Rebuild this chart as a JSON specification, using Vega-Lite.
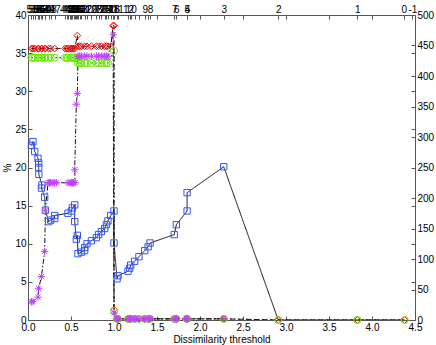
{
  "$schema": "https://vega.github.io/schema/vega-lite/v6.json",
  "width": 387,
  "height": 305,
  "autosize": {"type": "none"},
  "padding": {"left": 28, "top": 15, "right": 21, "bottom": 25},
  "config": {
    "view": {"stroke": "#555", "strokeWidth": 1},
    "font": "Liberation Sans",
    "axis": {"domain": false, "grid": false, "tickColor": "#555", "tickSize": -4, "tickWidth": 1,
      "labelFont": "Liberation Sans", "labelFontSize": 10, "labelColor": "#000", "labelPadding": 6,
      "titleFont": "Liberation Sans", "titleFontSize": 10, "titleFontWeight": "normal", "titleColor": "#000",
      "labelOverlap": false, "labelFlush": false, "labelBound": false}
  },
  "datasets": {
    "d": [
      {"s":"B","i":1,"x":0.04,"y":22.9},{"s":"B","i":2,"x":0.058,"y":23.4},{"s":"B","i":3,"x":0.078,"y":22.1},{"s":"B","i":4,"x":0.116,"y":21.2},{"s":"B","i":5,"x":0.124,"y":20.6},{"s":"B","i":6,"x":0.124,"y":20.0},{"s":"B","i":7,"x":0.126,"y":19.1},{"s":"B","i":8,"x":0.163,"y":17.7},{"s":"B","i":9,"x":0.156,"y":17.3},{"s":"B","i":10,"x":0.194,"y":16.1},{"s":"B","i":11,"x":0.202,"y":14.4},{"s":"B","i":12,"x":0.24,"y":12.9},{"s":"B","i":13,"x":0.264,"y":13.1},{"s":"B","i":14,"x":0.31,"y":13.3},{"s":"B","i":15,"x":0.31,"y":13.7},{"s":"B","i":16,"x":0.465,"y":14.0},{"s":"B","i":17,"x":0.504,"y":14.3},{"s":"B","i":18,"x":0.516,"y":14.7},{"s":"B","i":19,"x":0.543,"y":15.1},{"s":"B","i":20,"x":0.543,"y":12.9},{"s":"B","i":21,"x":0.562,"y":10.6},{"s":"B","i":22,"x":0.574,"y":11.1},{"s":"B","i":23,"x":0.581,"y":8.7},{"s":"B","i":24,"x":0.62,"y":8.9},{"s":"B","i":25,"x":0.659,"y":9.1},{"s":"B","i":26,"x":0.659,"y":9.5},{"s":"B","i":27,"x":0.686,"y":10.0},{"s":"B","i":28,"x":0.737,"y":10.4},{"s":"B","i":29,"x":0.795,"y":10.8},{"s":"B","i":30,"x":0.822,"y":11.2},{"s":"B","i":31,"x":0.853,"y":11.6},{"s":"B","i":32,"x":0.892,"y":12.0},{"s":"B","i":33,"x":0.912,"y":12.5},{"s":"B","i":34,"x":0.93,"y":13.0},{"s":"B","i":35,"x":0.962,"y":13.7},{"s":"B","i":36,"x":1.0,"y":14.3},{"s":"B","i":37,"x":1.0,"y":10.1},{"s":"B","i":38,"x":1.035,"y":5.4},{"s":"B","i":39,"x":1.047,"y":5.8},{"s":"B","i":40,"x":1.163,"y":6.4},{"s":"B","i":41,"x":1.183,"y":6.8},{"s":"B","i":42,"x":1.194,"y":7.2},{"s":"B","i":43,"x":1.24,"y":7.7},{"s":"B","i":44,"x":1.29,"y":8.3},{"s":"B","i":45,"x":1.357,"y":9.1},{"s":"B","i":46,"x":1.397,"y":9.6},{"s":"B","i":47,"x":1.42,"y":10.1},{"s":"B","i":48,"x":1.7,"y":11.2},{"s":"B","i":49,"x":1.725,"y":12.5},{"s":"B","i":50,"x":1.85,"y":14.3},{"s":"B","i":51,"x":1.85,"y":16.7},{"s":"B","i":52,"x":2.276,"y":20.1},{"s":"B","i":53,"x":2.91,"y":0},{"s":"B","i":54,"x":3.83,"y":0},{"s":"B","i":55,"x":4.38,"y":0},

      {"s":"R","i":101,"x":0.04,"y":35.6},{"s":"R","i":102,"x":0.058,"y":35.6},{"s":"R","i":103,"x":0.078,"y":35.6},{"s":"R","i":104,"x":0.116,"y":35.6},{"s":"R","i":105,"x":0.124,"y":35.6},{"s":"R","i":106,"x":0.156,"y":35.6},{"s":"R","i":107,"x":0.163,"y":35.6},{"s":"R","i":108,"x":0.194,"y":35.6},{"s":"R","i":109,"x":0.202,"y":35.6},{"s":"R","i":110,"x":0.24,"y":35.6},{"s":"R","i":111,"x":0.264,"y":35.6},{"s":"R","i":112,"x":0.31,"y":35.6},
      {"s":"R","i":113,"x":0.43,"y":35.6},{"s":"R","i":114,"x":0.45,"y":35.6},{"s":"R","i":115,"x":0.465,"y":35.6},{"s":"R","i":116,"x":0.49,"y":35.6},{"s":"R","i":117,"x":0.504,"y":35.6},{"s":"R","i":118,"x":0.516,"y":35.6},{"s":"R","i":119,"x":0.53,"y":35.6},{"s":"R","i":120,"x":0.543,"y":35.6},{"s":"R","i":121,"x":0.574,"y":37.3},
      {"s":"R","i":122,"x":0.581,"y":35.9},{"s":"R","i":123,"x":0.6,"y":35.9},{"s":"R","i":124,"x":0.62,"y":35.9},{"s":"R","i":125,"x":0.659,"y":35.9},{"s":"R","i":126,"x":0.686,"y":35.9},{"s":"R","i":127,"x":0.737,"y":35.9},{"s":"R","i":128,"x":0.795,"y":35.9},{"s":"R","i":129,"x":0.822,"y":35.9},{"s":"R","i":130,"x":0.853,"y":35.9},{"s":"R","i":131,"x":0.892,"y":35.9},{"s":"R","i":132,"x":0.912,"y":35.9},{"s":"R","i":133,"x":0.93,"y":35.9},{"s":"R","i":134,"x":0.962,"y":35.9},
      {"s":"R","i":135,"x":0.99,"y":38.6},{"s":"R","i":136,"x":1.0,"y":38.6},{"s":"R","i":137,"x":1.0,"y":1.4},
      {"s":"R","i":138,"x":1.035,"y":0.15},{"s":"R","i":139,"x":1.047,"y":0.15},{"s":"R","i":140,"x":1.163,"y":0.15},{"s":"R","i":141,"x":1.183,"y":0.15},{"s":"R","i":142,"x":1.194,"y":0.15},{"s":"R","i":143,"x":1.24,"y":0.15},{"s":"R","i":144,"x":1.29,"y":0.15},{"s":"R","i":145,"x":1.357,"y":0.15},{"s":"R","i":146,"x":1.397,"y":0.15},{"s":"R","i":147,"x":1.42,"y":0.15},{"s":"R","i":148,"x":1.7,"y":0.15},{"s":"R","i":149,"x":1.725,"y":0.15},{"s":"R","i":150,"x":1.845,"y":0.15},{"s":"R","i":151,"x":1.85,"y":0.15},{"s":"R","i":152,"x":2.276,"y":0.15},{"s":"R","i":153,"x":2.91,"y":0},{"s":"R","i":154,"x":3.83,"y":0},{"s":"R","i":155,"x":4.38,"y":0},

      {"s":"G","i":201,"x":0.04,"y":34.4},{"s":"G","i":202,"x":0.058,"y":34.4},{"s":"G","i":203,"x":0.078,"y":34.4},{"s":"G","i":204,"x":0.116,"y":34.4},{"s":"G","i":205,"x":0.124,"y":34.4},{"s":"G","i":206,"x":0.156,"y":34.4},{"s":"G","i":207,"x":0.163,"y":34.4},{"s":"G","i":208,"x":0.194,"y":34.4},{"s":"G","i":209,"x":0.202,"y":34.4},{"s":"G","i":210,"x":0.24,"y":34.4},{"s":"G","i":211,"x":0.264,"y":34.4},{"s":"G","i":212,"x":0.31,"y":34.4},
      {"s":"G","i":213,"x":0.43,"y":34.4},{"s":"G","i":214,"x":0.45,"y":34.4},{"s":"G","i":215,"x":0.465,"y":34.4},{"s":"G","i":216,"x":0.49,"y":34.4},{"s":"G","i":217,"x":0.504,"y":34.4},{"s":"G","i":218,"x":0.516,"y":34.4},{"s":"G","i":219,"x":0.53,"y":34.4},{"s":"G","i":220,"x":0.543,"y":34.4},{"s":"G","i":221,"x":0.574,"y":34.3},
      {"s":"G","i":222,"x":0.581,"y":33.7},{"s":"G","i":223,"x":0.6,"y":33.7},{"s":"G","i":224,"x":0.62,"y":33.7},{"s":"G","i":225,"x":0.659,"y":33.7},{"s":"G","i":226,"x":0.686,"y":33.7},{"s":"G","i":227,"x":0.737,"y":33.7},{"s":"G","i":228,"x":0.795,"y":33.7},{"s":"G","i":229,"x":0.822,"y":33.7},{"s":"G","i":230,"x":0.853,"y":33.7},{"s":"G","i":231,"x":0.892,"y":33.7},{"s":"G","i":232,"x":0.912,"y":33.7},{"s":"G","i":233,"x":0.93,"y":33.7},
      {"s":"G","i":234,"x":1.0,"y":35.3},{"s":"G","i":235,"x":1.0,"y":1.2},
      {"s":"G","i":238,"x":1.035,"y":0.15},{"s":"G","i":239,"x":1.047,"y":0.15},{"s":"G","i":240,"x":1.163,"y":0.15},{"s":"G","i":241,"x":1.183,"y":0.15},{"s":"G","i":242,"x":1.194,"y":0.15},{"s":"G","i":243,"x":1.24,"y":0.15},{"s":"G","i":244,"x":1.29,"y":0.15},{"s":"G","i":245,"x":1.357,"y":0.15},{"s":"G","i":246,"x":1.397,"y":0.15},{"s":"G","i":247,"x":1.42,"y":0.15},{"s":"G","i":248,"x":1.7,"y":0.15},{"s":"G","i":249,"x":1.725,"y":0.15},{"s":"G","i":250,"x":1.845,"y":0.15},{"s":"G","i":251,"x":1.85,"y":0.15},{"s":"G","i":252,"x":2.276,"y":0.15},{"s":"G","i":253,"x":2.91,"y":0},{"s":"G","i":254,"x":3.83,"y":0},{"s":"G","i":255,"x":4.38,"y":0},

      {"s":"P","i":301,"x":0.04,"y":2.4},{"s":"P","i":302,"x":0.058,"y":2.4},{"s":"P","i":303,"x":0.116,"y":3.0},{"s":"P","i":304,"x":0.124,"y":4.1},{"s":"P","i":305,"x":0.156,"y":5.7},{"s":"P","i":306,"x":0.194,"y":9.0},{"s":"P","i":307,"x":0.202,"y":14.4},{"s":"P","i":308,"x":0.233,"y":18.0},{"s":"P","i":309,"x":0.25,"y":18.0},{"s":"P","i":310,"x":0.264,"y":18.0},{"s":"P","i":311,"x":0.29,"y":18.0},{"s":"P","i":312,"x":0.31,"y":18.0},{"s":"P","i":313,"x":0.33,"y":18.0},
      {"s":"P","i":314,"x":0.465,"y":18.0},{"s":"P","i":315,"x":0.49,"y":18.0},{"s":"P","i":316,"x":0.504,"y":18.0},{"s":"P","i":317,"x":0.516,"y":18.0},{"s":"P","i":318,"x":0.53,"y":18.0},{"s":"P","i":319,"x":0.548,"y":18.0},{"s":"P","i":320,"x":0.543,"y":19.7},{"s":"P","i":321,"x":0.562,"y":28.3},{"s":"P","i":322,"x":0.574,"y":29.7},
      {"s":"P","i":323,"x":0.581,"y":34.6},{"s":"P","i":324,"x":0.6,"y":34.6},{"s":"P","i":325,"x":0.62,"y":34.6},{"s":"P","i":326,"x":0.659,"y":34.6},{"s":"P","i":327,"x":0.686,"y":34.6},{"s":"P","i":328,"x":0.737,"y":34.6},{"s":"P","i":329,"x":0.795,"y":34.6},{"s":"P","i":330,"x":0.822,"y":34.6},{"s":"P","i":331,"x":0.853,"y":34.6},{"s":"P","i":332,"x":0.892,"y":34.6},{"s":"P","i":333,"x":0.912,"y":34.6},{"s":"P","i":334,"x":0.93,"y":34.6},
      {"s":"P","i":335,"x":0.99,"y":37.4},{"s":"P","i":336,"x":1.0,"y":0.9},
      {"s":"P","i":338,"x":1.035,"y":0.15},{"s":"P","i":339,"x":1.047,"y":0.15},{"s":"P","i":340,"x":1.163,"y":0.15},{"s":"P","i":341,"x":1.183,"y":0.15},{"s":"P","i":342,"x":1.194,"y":0.15},{"s":"P","i":343,"x":1.24,"y":0.15},{"s":"P","i":344,"x":1.29,"y":0.15},{"s":"P","i":345,"x":1.357,"y":0.15},{"s":"P","i":346,"x":1.397,"y":0.15},{"s":"P","i":347,"x":1.42,"y":0.15},{"s":"P","i":348,"x":1.7,"y":0.15},{"s":"P","i":349,"x":1.725,"y":0.15},{"s":"P","i":350,"x":1.845,"y":0.15},{"s":"P","i":351,"x":1.85,"y":0.15},{"s":"P","i":352,"x":2.276,"y":0.15}
    ]
  },
  "data": {"name": "d"},
  "layer": [
    {
      "mark": {"type": "line", "strokeWidth": 1, "color": "#111", "clip": true},
      "encoding": {
        "x": {"field": "x", "type": "quantitative", "scale": {"domain": [0, 4.5], "nice": false, "zero": false},
          "axis": {"orient": "bottom", "values": [0, 0.5, 1, 1.5, 2, 2.5, 3, 3.5, 4, 4.5], "title": "Dissimilarity threshold", "titlePadding": 2}},
        "y": {"field": "y", "type": "quantitative", "scale": {"domain": [0, 40], "nice": false},
          "axis": {"orient": "left", "values": [0, 5, 10, 15, 20, 25, 30, 35, 40], "title": "%", "titlePadding": 2}},
        "detail": {"field": "s", "type": "nominal"},
        "strokeDash": {"field": "s", "type": "nominal", "legend": null,
          "scale": {"domain": ["B", "R", "G", "P"], "range": [[1, 0], [5, 3], [1.5, 2.5], [5, 2, 1.5, 2]]}},
        "order": {"field": "i", "type": "quantitative"}
      }
    },
    {
      "transform": [{"filter": "datum.s != 'B' || datum.x < 2.5"}],
      "mark": {"type": "point", "filled": false, "strokeWidth": 1, "opacity": 1, "clip": false},
      "encoding": {
        "x": {"field": "x", "type": "quantitative", "scale": {"domain": [0, 4.5], "nice": false, "zero": false},
          "axis": {"orient": "top", "title": null, "labelPadding": 5,
            "values": [0.04,0.058,0.078,0.116,0.124,0.126,0.156,0.163,0.194,0.202,0.24,0.264,0.31,0.43,0.45,0.465,0.49,0.504,0.516,0.53,0.543,0.562,0.574,0.581,0.6,0.62,0.659,0.686,0.737,0.795,0.822,0.853,0.892,0.912,0.93,0.962,0.99,1,1.035,1.047,1.163,1.183,1.194,1.24,1.29,1.357,1.397,1.42,1.7,1.725,1.845,1.85,2.276,2.91,3.83,4.37,4.47,0.5,1.5,2,2.5,3,3.5,4],
            "labelExpr": "{'0.04':'59','0.058':'58','0.078':'57','0.116':'56','0.124':'55','0.126':'54','0.156':'53','0.163':'52','0.194':'51','0.202':'50','0.24':'49','0.264':'48','0.31':'47','0.43':'44','0.45':'43','0.465':'42','0.49':'41','0.504':'40','0.516':'39','0.53':'38','0.543':'37','0.562':'36','0.574':'35','0.581':'34','0.6':'33','0.62':'32','0.659':'31','0.686':'30','0.737':'29','0.795':'28','0.822':'27','0.853':'26','0.892':'25','0.912':'24','0.93':'22','0.962':'20','0.99':'18','1':'16','1.047':'11','1.163':'12','1.194':'10','1.357':'9','1.42':'8','1.7':'7','1.725':'6','1.845':'5','1.85':'4','2.276':'3','2.91':'2','3.83':'1','4.37':'0','4.47':'-1'}[toString(datum.value)] || ''"}},
        "y": {"field": "y", "type": "quantitative", "scale": {"domain": [0, 40], "nice": false}, "axis": null},
        "shape": {"field": "s", "type": "nominal", "legend": null,
          "scale": {"domain": ["B", "R", "G", "P"], "range": ["square", "diamond", "circle", "M-1,0L1,0M0,-1L0,1M-0.7,-0.7L0.7,0.7M-0.7,0.7L0.7,-0.7"]}},
        "size": {"field": "s", "type": "nominal", "legend": null,
          "scale": {"domain": ["B", "R", "G", "P"], "range": [40, 55, 42, 40]}},
        "color": {"field": "s", "type": "nominal", "legend": null,
          "scale": {"domain": ["B", "R", "G", "P"], "range": ["#3355ff", "#ff0000", "#66ee00", "#c040ff"]}},
        "order": {"field": "i", "type": "quantitative"}
      }
    },
    {
      "mark": {"type": "point", "opacity": 0},
      "encoding": {
        "x": {"field": "x", "type": "quantitative", "scale": {"domain": [0, 4.5], "nice": false, "zero": false}, "axis": null},
        "y": {"field": "y", "type": "quantitative", "scale": {"domain": [0, 500], "nice": false},
          "axis": {"orient": "right", "title": null, "values": [0,50,100,150,200,250,300,350,400,450,500,62.5,125,187.5,312.5,375,437.5],
            "labelExpr": "datum.value % 50 == 0 ? datum.label : ''"}}
      }
    }
  ],
  "resolve": {"scale": {"y": "independent"}, "axis": {"x": "independent", "y": "independent"}}
}
